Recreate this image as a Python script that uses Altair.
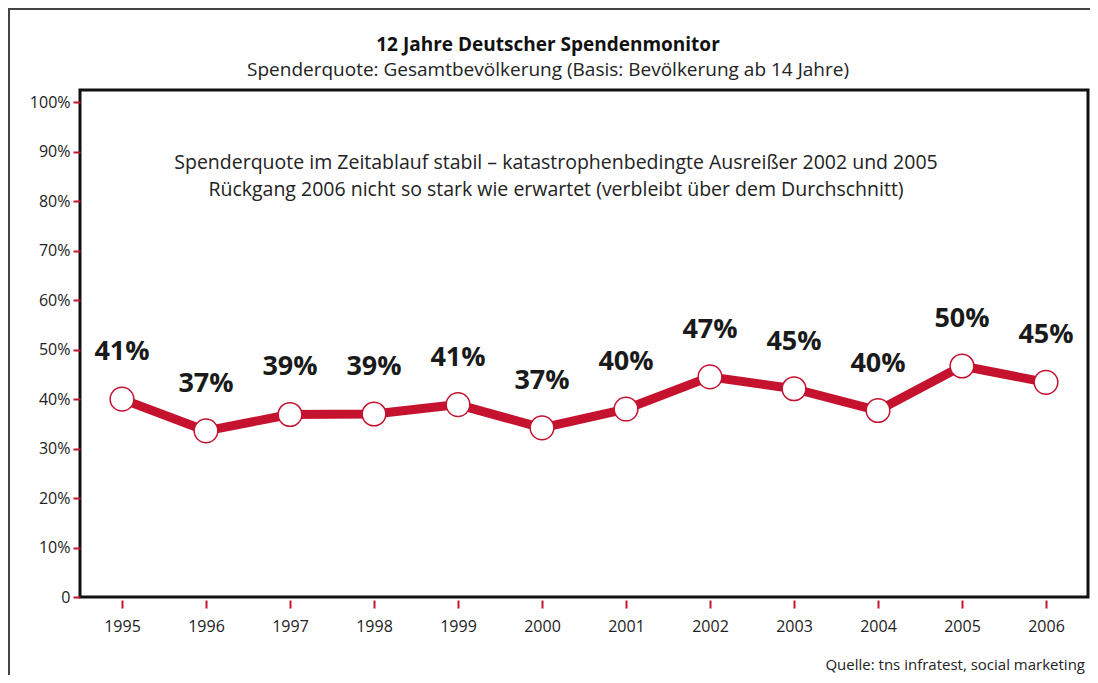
import altair as alt
import pandas as pd

years = [1995, 1996, 1997, 1998, 1999, 2000, 2001, 2002, 2003, 2004, 2005, 2006]
# plotted positions as drawn in the picture (percent)
plotted = [40.0, 33.6, 36.9, 37.0, 38.9, 34.2, 38.0, 44.5, 42.1, 37.7, 46.7, 43.4]
# printed value labels
labels = ["41%", "37%", "39%", "39%", "41%", "37%", "40%", "47%", "45%", "40%", "50%", "45%"]

title_text = "12 Jahre Deutscher Spendenmonitor"
subtitle_text = "Spenderquote: Gesamtbevölkerung (Basis: Bevölkerung ab 14 Jahre)"
note_lines = [
    "Spenderquote im Zeitablauf stabil – katastrophenbedingte Ausreißer 2002 und 2005",
    "Rückgang 2006 nicht so stark wie erwartet (verbleibt über dem Durchschnitt)",
]
source_text = "Quelle: tns infratest, social marketing"

RED = "#C4122F"
FONT = "Open Sans"

df = pd.DataFrame({"year": years, "value": plotted, "label": labels})

x = alt.X(
    "year:Q",
    scale=alt.Scale(domain=[1994.5, 2006.5], nice=False, zero=False),
    axis=alt.Axis(
        values=years, format="d", title=None, grid=False, domain=False,
        tickColor=RED, tickWidth=2, tickSize=8, offset=3,
        labelFont=FONT, labelFontSize=16, labelColor="#222", labelPadding=10,
    ),
)
y = alt.Y(
    "value:Q",
    scale=alt.Scale(domain=[0, 102.5], nice=False),
    axis=alt.Axis(
        values=list(range(0, 101, 10)), title=None, grid=False, domain=False,
        labelExpr="datum.value == 0 ? '0' : datum.value + '%'",
        tickColor=RED, tickWidth=2, tickSize=7,
        labelFont=FONT, labelFontSize=16, labelColor="#222", labelPadding=3,
    ),
)

base = alt.Chart(df)

line = base.mark_line(color=RED, strokeWidth=9, strokeJoin="round").encode(x=x, y=y)
points = base.mark_point(
    shape="circle", filled=True, fill="white", stroke=RED, strokeWidth=1.5,
    size=560, opacity=1,
).encode(x="year:Q", y="value:Q")
texts = base.mark_text(
    dy=-47, font=FONT, fontSize=27, fontWeight="bold", color="#1a1a1a",
).encode(x="year:Q", y="value:Q", text="label:N")

one = alt.Data(values=[{"k": 1}])
title = alt.Chart(one).mark_text(
    text=title_text, font=FONT, fontSize=19, fontWeight="bold", color="#111",
    align="center", baseline="middle", clip=False,
).encode(x=alt.value(468), y=alt.value(-45))
subtitle = alt.Chart(one).mark_text(
    text=subtitle_text, font=FONT, fontSize=19, color="#222",
    align="center", baseline="middle", clip=False,
).encode(x=alt.value(468), y=alt.value(-20))

note = alt.Chart(one).mark_text(
    text=note_lines, font=FONT, fontSize=19.5, color="#222", align="center",
    baseline="top", lineHeight=27,
).encode(x=alt.value(476), y=alt.value(64))

source = alt.Chart(one).mark_text(
    text=source_text, font=FONT, fontSize=15, color="#222", align="right",
    baseline="alphabetic", clip=False,
).encode(x=alt.value(1005), y=alt.value(580))

frame = alt.Chart(one).mark_rect(
    fill=None, stroke="#444", strokeWidth=2, clip=False,
).encode(x=alt.value(-71), x2=alt.value(1040), y=alt.value(-81), y2=alt.value(620))

chart = alt.layer(frame, line, points, texts, note, source, title, subtitle).properties(
    width=1008,
    height=507,
    padding={"left": 72, "top": 82, "right": 2, "bottom": 78},
    autosize=alt.AutoSizeParams(type="none"),
).configure(background="white").configure_view(stroke="#111", strokeWidth=3)

chart.save("out.html", embed_options={"renderer": "svg", "actions": False})
